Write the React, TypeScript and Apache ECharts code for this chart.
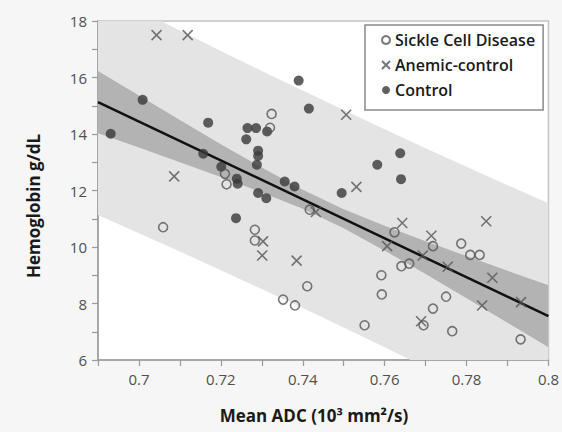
import React, { useEffect, useRef } from "react";
import * as echarts from "echarts";

// ---- data ----
const controlPts: number[][] = [
  [0.6931, 14.01], [0.7009, 15.21], [0.7169, 14.4], [0.7157, 13.3], [0.7201, 12.84],
  [0.7239, 12.42], [0.7241, 12.24], [0.7237, 11.02], [0.7265, 14.21], [0.7286, 14.21],
  [0.7313, 14.09], [0.7262, 13.81], [0.7291, 13.41], [0.7291, 13.22], [0.7288, 12.91],
  [0.7291, 11.91], [0.7311, 11.73], [0.7356, 12.32], [0.738, 12.14], [0.739, 15.89],
  [0.7415, 14.9], [0.7495, 11.91], [0.7582, 12.91], [0.7638, 13.32], [0.764, 12.4],
];
const anemicPts: number[][] = [
  [0.7043, 17.5], [0.7119, 17.5], [0.7086, 12.5], [0.7506, 14.68], [0.7531, 12.13],
  [0.7432, 11.24], [0.7303, 10.2], [0.7301, 9.7], [0.7385, 9.52], [0.7606, 10.03],
  [0.7643, 10.85], [0.7714, 10.4], [0.7693, 9.7], [0.7754, 9.3], [0.7848, 10.91],
  [0.7863, 8.91], [0.7838, 7.93], [0.7689, 7.37], [0.7933, 8.05],
];
const scdPts: number[][] = [
  [0.7059, 10.7], [0.721, 12.59], [0.7214, 12.22], [0.7324, 14.71], [0.732, 14.22],
  [0.7283, 10.61], [0.7283, 10.23], [0.7417, 11.32], [0.7411, 8.61], [0.7352, 8.14],
  [0.7381, 7.93], [0.7551, 7.23], [0.7592, 9.0], [0.7593, 8.32], [0.7624, 10.52],
  [0.7718, 10.03], [0.7641, 9.32], [0.766, 9.41], [0.7787, 10.12], [0.7809, 9.72],
  [0.7832, 9.72], [0.775, 8.24], [0.7718, 7.82], [0.7695, 7.23], [0.7765, 7.02],
  [0.7932, 6.73],
];
const fitLine: number[][] = [[0.69, 15.13], [0.8, 7.55]];

const bandX = [0.69, 0.7, 0.71, 0.72, 0.73, 0.74, 0.75, 0.76, 0.77, 0.78, 0.79, 0.8];
const ciUpper = [16.23, 15.36, 14.5, 13.64, 12.81, 12.03, 11.34, 10.75, 10.2, 9.68, 9.16, 8.65];
const ciLower = [14.03, 13.52, 13.0, 12.48, 11.93, 11.35, 10.66, 9.87, 9.04, 8.19, 7.32, 6.45];
const predUpper = [19.13, 18.39, 17.66, 16.94, 16.23, 15.54, 14.85, 14.17, 13.5, 12.84, 12.19, 11.55];
const predLower = [11.13, 10.49, 9.84, 9.18, 8.51, 7.84, 7.15, 6.45, 5.74, 5.02, 4.29, 3.55];

const seriesNames = ["Sickle Cell Disease", "Anemic-control", "Control"];
const xTitle = "Mean ADC (10³ mm²/s)";
const yTitle = "Hemoglobin g/dL";

const FONT = "'Open Sans', 'Noto Sans', sans-serif";
const X_PATH = "path://M0,0L10,10M10,0L0,10";

export default function App() {
  const ref = useRef<HTMLDivElement>(null);
  useEffect(() => {
    if (!ref.current) return;
    const chart = echarts.init(ref.current, undefined, { renderer: "svg" });

    const bandPolygon = (api: any, up: number[], lo: number[]) => {
      const pts: number[][] = [];
      for (let i = 0; i < bandX.length; i++) pts.push(api.coord([bandX[i], up[i]]));
      for (let i = bandX.length - 1; i >= 0; i--) pts.push(api.coord([bandX[i], lo[i]]));
      return pts;
    };

    chart.setOption({
      animation: false,
      backgroundColor: "#f6f6f6",
      grid: {
        left: 98, right: 13, top: 21, bottom: 72,
        show: true, backgroundColor: "#ffffff", borderColor: "#c4c4c4", borderWidth: 1.5,
      },
      xAxis: {
        type: "value", min: 0.69, max: 0.8, interval: 0.01,
        axisLine: { show: true, onZero: false, lineStyle: { color: "#9a9a9a", width: 1.5 } },
        axisTick: { show: true, length: 6, lineStyle: { color: "#9a9a9a", width: 1.2 } },
        splitLine: { show: false },
        axisLabel: {
          margin: 11, fontSize: 15, color: "#505050", fontFamily: FONT,
          formatter: (v: number) => {
            const k = Math.round(v * 100);
            return k % 2 === 0 ? String(+(k / 100).toFixed(2)) : "";
          },
        },
      },
      yAxis: {
        type: "value", min: 6, max: 18, interval: 1,
        axisLine: { show: true, onZero: false, lineStyle: { color: "#9a9a9a", width: 1.5 } },
        axisTick: { show: true, length: 6, lineStyle: { color: "#9a9a9a", width: 1.2 } },
        splitLine: { show: false },
        axisLabel: {
          margin: 11, fontSize: 15, color: "#505050", fontFamily: FONT,
          formatter: (v: number) => (Math.round(v) % 2 === 0 ? String(Math.round(v)) : ""),
        },
      },
      legend: {
        data: seriesNames,
        orient: "vertical",
        left: 365, top: 25,
        padding: [5, 8, 10, 16],
        itemGap: 5,
        itemWidth: 8, itemHeight: 8,
        borderColor: "#8a8a8a", borderWidth: 1.5, backgroundColor: "#ffffff",
        textStyle: { fontSize: 16, fontWeight: 600, color: "#1a1a1a", fontFamily: FONT, lineHeight: 20 },
      },
      graphic: [
        {
          type: "text", x: 314, y: 415,
          style: {
            text: xTitle, fontSize: 17, fontWeight: "bold", fontFamily: FONT, fill: "#1a1a1a",
            align: "center", verticalAlign: "middle", textAlign: "center", textVerticalAlign: "middle",
          },
        },
        {
          type: "text", x: 33, y: 206, rotation: Math.PI / 2,
          style: {
            text: yTitle, fontSize: 17, fontWeight: "bold", fontFamily: FONT, fill: "#1a1a1a",
            align: "center", verticalAlign: "middle", textAlign: "center", textVerticalAlign: "middle",
          },
        },
      ],
      series: [
        {
          type: "custom",
          name: "bands",
          silent: true,
          data: [[0.69, 6]],
          z: 1,
          renderItem: (params: any, api: any) => {
            const cs = params.coordSys;
            return {
              type: "group",
              clipPath: { type: "rect", shape: { x: cs.x, y: cs.y, width: cs.width, height: cs.height } },
              children: [
                { type: "polygon", shape: { points: bandPolygon(api, predUpper, predLower) }, style: { fill: "#e4e4e4" } },
                { type: "polygon", shape: { points: bandPolygon(api, ciUpper, ciLower) }, style: { fill: "#b3b3b3" } },
              ],
            };
          },
        },
        {
          type: "line",
          name: "fit",
          data: fitLine,
          symbol: "none",
          z: 2,
          lineStyle: { color: "#111111", width: 2.5 },
        },
        {
          type: "scatter",
          name: "Control",
          data: controlPts,
          symbol: "circle",
          symbolSize: 10,
          z: 3,
          itemStyle: { color: "#383838" },
        },
        {
          type: "scatter",
          name: "Anemic-control",
          data: anemicPts,
          symbol: X_PATH,
          symbolSize: 10,
          z: 4,
          itemStyle: { color: "transparent", borderColor: "#555555", borderWidth: 1.6 },
        },
        {
          type: "scatter",
          name: "Sickle Cell Disease",
          data: scdPts,
          symbol: "circle",
          symbolSize: 9,
          z: 5,
          itemStyle: { color: "transparent", borderColor: "#555555", borderWidth: 1.6 },
        },
      ],
    });
    return () => chart.dispose();
  }, []);
  return <div ref={ref} style={{ position: "absolute", left: 0, top: 0, width: 562, height: 432 }} />;
}
